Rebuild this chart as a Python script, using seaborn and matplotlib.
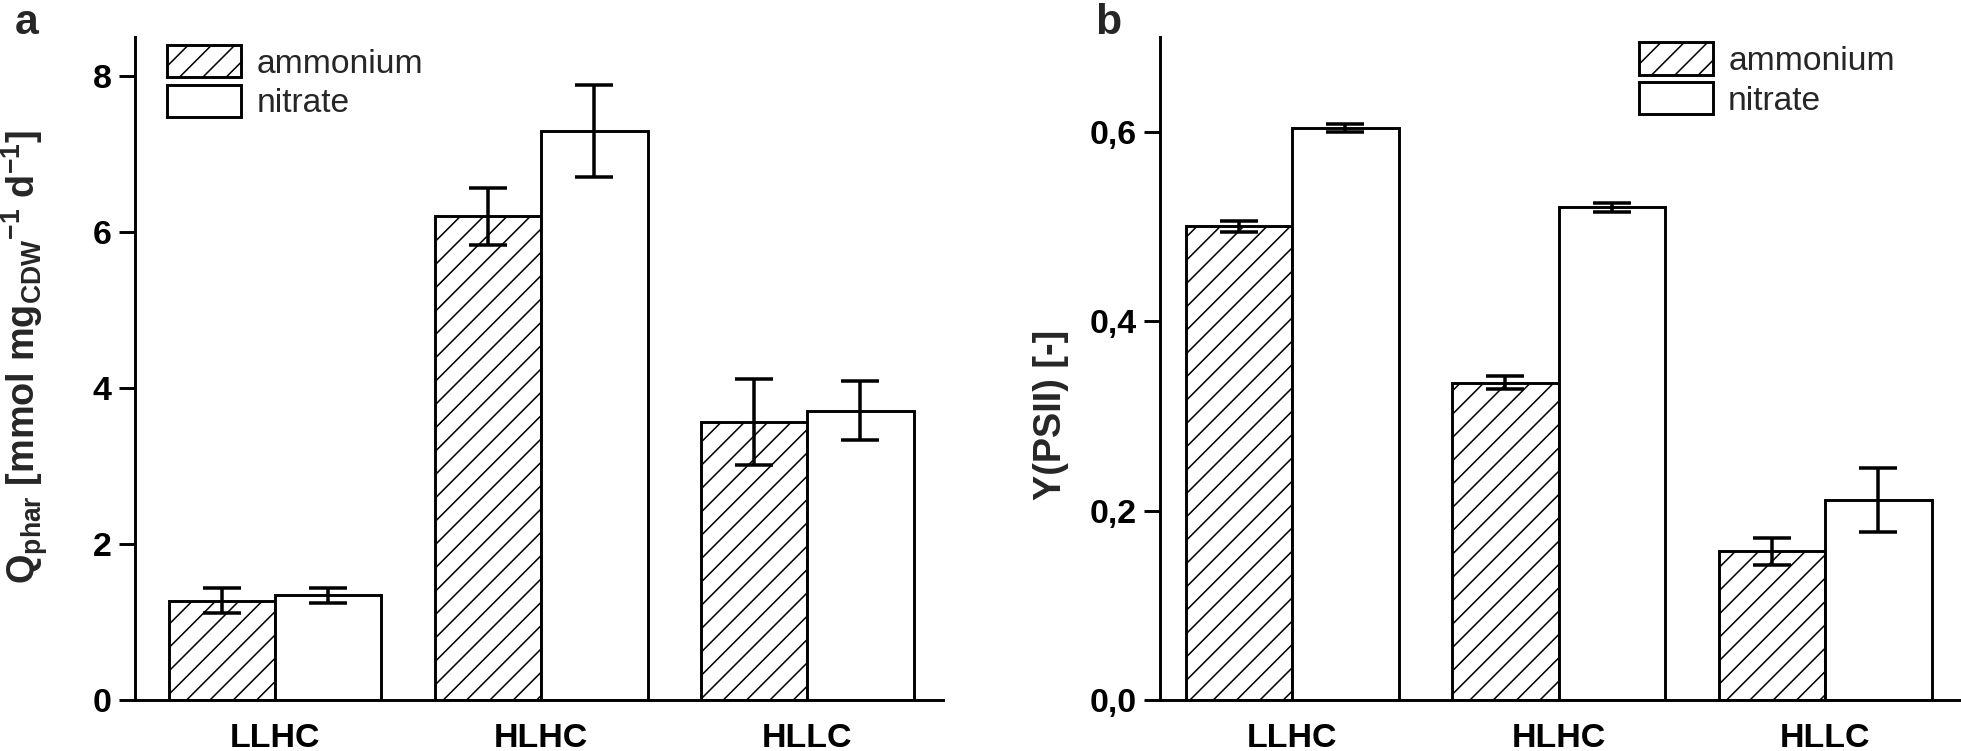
import pandas as pd
import matplotlib.pyplot as plt
import matplotlib.patches as mpatches
import seaborn as sns

# data
categories = ['LLHC', 'HLHC', 'HLLC']
sources = ['ammonium', 'nitrate']

# a: Q_phar
q_ammonium = [1.27, 6.20, 3.56]
q_ammonium_err = [0.16, 0.37, 0.55]
q_nitrate = [1.34, 7.29, 3.71]
q_nitrate_err = [0.09, 0.59, 0.38]

# b: Y(PSII)
y_ammonium = [0.500, 0.335, 0.157]
y_ammonium_err = [0.006, 0.007, 0.014]
y_nitrate = [0.604, 0.520, 0.211]
y_nitrate_err = [0.004, 0.005, 0.034]

yticks_a = [0, 2, 4, 6, 8]
yticklabels_a = ['0', '2', '4', '6', '8']
yticks_b = [0.0, 0.2, 0.4, 0.6]
yticklabels_b = ['0,0', '0,2', '0,4', '0,6']

sns.set_style('ticks')
plt.rcParams['font.family'] = ['Liberation Sans', 'DejaVu Sans']
plt.rcParams['mathtext.fontset'] = 'custom'
plt.rcParams['mathtext.rm'] = 'Liberation Sans:bold'
plt.rcParams['mathtext.default'] = 'rm'
plt.rcParams['hatch.linewidth'] = 0.8
plt.rcParams['hatch.color'] = 'black'

DPI = 140
W, H = 1961, 751
fig = plt.figure(figsize=(W / DPI, H / DPI), dpi=DPI)
ax_a = fig.add_axes([135 / W, 51 / H, (943 - 135) / W, 663 / H])
ax_b = fig.add_axes([1160 / W, 51 / H, (W - 1160) / W, 663 / H])


def draw_panel(ax, amm, amm_err, nit, nit_err):
    df = pd.DataFrame({
        'condition': categories * 2,
        'source': ['ammonium'] * 3 + ['nitrate'] * 3,
        'value': amm + nit,
        'err': amm_err + nit_err,
    })
    sns.barplot(data=df, x='condition', y='value', hue='source',
                order=categories, hue_order=sources, errorbar=None,
                palette=['white', 'white'], saturation=1, width=0.8,
                edgecolor='black', linewidth=1.5, legend=False, ax=ax)
    for cont, src in zip(ax.containers, sources):
        sub = df[df['source'] == src].set_index('condition').loc[categories]
        xs = []
        for p in cont:
            p.set_facecolor('white')
            p.set_edgecolor('black')
            if src == 'ammonium':
                p.set_hatch('//')
            xs.append(p.get_x() + p.get_width() / 2)
        ax.errorbar(xs, sub['value'], yerr=sub['err'], fmt='none',
                    ecolor='black', elinewidth=1.8, capsize=10,
                    capthick=1.8, zorder=5)

    for s in ['top', 'right']:
        ax.spines[s].set_visible(False)
    for s in ['left', 'bottom']:
        ax.spines[s].set_linewidth(1.5)
        ax.spines[s].set_color('black')
    ax.tick_params(axis='y', length=8, width=1.5, labelsize=17.5, pad=4,
                   color='black', labelcolor='black')
    ax.tick_params(axis='x', length=0, labelsize=17.5, pad=12,
                   labelcolor='black')
    for t in ax.get_xticklabels() + ax.get_yticklabels():
        t.set_fontweight('bold')
    ax.set_xlabel('')

    handles = [
        mpatches.Patch(facecolor='white', edgecolor='black', hatch='//',
                       linewidth=1.5, label='ammonium'),
        mpatches.Patch(facecolor='white', edgecolor='black',
                       linewidth=1.5, label='nitrate'),
    ]
    return handles


h = draw_panel(ax_a, q_ammonium, q_ammonium_err, q_nitrate, q_nitrate_err)
ax_a.set_xlim(-0.526, 2.51)
ax_a.set_ylim(0, 8.5)
ax_a.set_yticks(yticks_a)
ax_a.set_yticklabels(yticklabels_a, fontweight='bold')
ax_a.set_ylabel(r'Q$_{phar}$ [mmol mg$_{CDW}$$^{-1}$ d$^{-1}$]',
                fontsize=19.5, fontweight='bold')
ax_a.yaxis.set_label_coords(-0.105, 0.517)
ax_a.legend(handles=h, loc='upper left', bbox_to_anchor=(0.04, 0.988),
            frameon=False, fontsize=17.3, handlelength=2.2,
            handleheight=1.1, labelspacing=0.15, handletextpad=0.45,
            borderpad=0, borderaxespad=0)

h = draw_panel(ax_b, y_ammonium, y_ammonium_err, y_nitrate, y_nitrate_err)
ax_b.set_xlim(-0.496, 2.51)
ax_b.set_ylim(0, 0.7)
ax_b.set_yticks(yticks_b)
ax_b.set_yticklabels(yticklabels_b, fontweight='bold')
ax_b.set_ylabel('Y(PSII) [-]', fontsize=19.5, fontweight='bold')
ax_b.yaxis.set_label_coords(-0.114, 0.43)
ax_b.legend(handles=h, loc='upper left', bbox_to_anchor=(0.598, 0.992),
            frameon=False, fontsize=17.3, handlelength=2.2,
            handleheight=1.1, labelspacing=0.15, handletextpad=0.45,
            borderpad=0, borderaxespad=0)

fig.text(15 / W, 1 - 3 / H, 'a', fontsize=22, fontweight='bold', va='top')
fig.text(1095 / W, 1 - 3 / H, 'b', fontsize=22, fontweight='bold', va='top')

fig.savefig('out.png', dpi=DPI)
